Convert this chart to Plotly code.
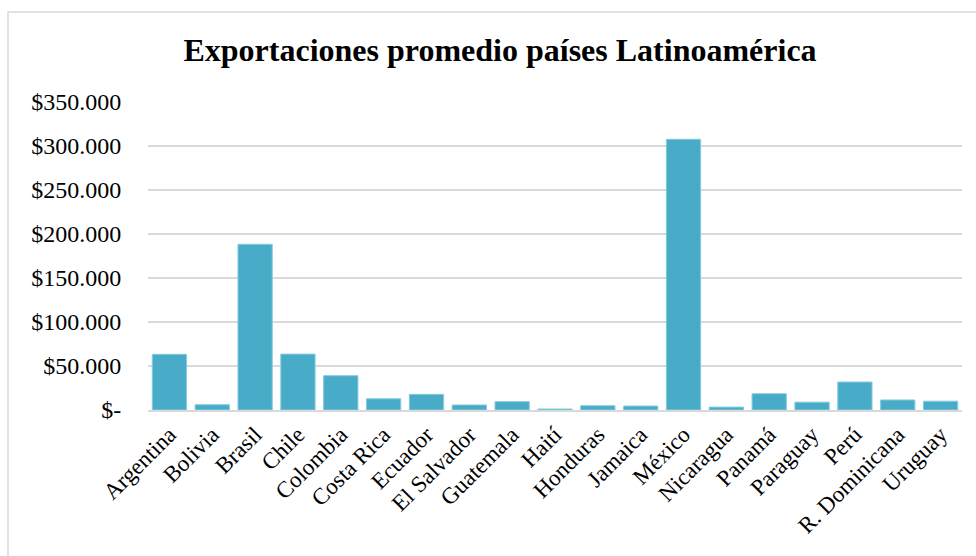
import plotly.graph_objects as go

# Average exports per Latin American country
paises = ["Argentina", "Bolivia", "Brasil", "Chile", "Colombia", "Costa Rica",
          "Ecuador", "El Salvador", "Guatemala", "Haití", "Honduras", "Jamaica",
          "México", "Nicaragua", "Panamá", "Paraguay", "Perú", "R. Dominicana",
          "Uruguay"]
exportaciones = [63300, 6000, 188300, 63500, 39000, 12800,
                 17800, 5700, 9500, 1100, 4900, 4500,
                 307600, 3300, 18500, 8900, 31800, 11400,
                 10000]

# Y-axis ticks in local currency format
y_ticks = [0, 50000, 100000, 150000, 200000, 250000, 300000, 350000]
y_labels = ["$-", "$50.000", "$100.000", "$150.000", "$200.000",
            "$250.000", "$300.000", "$350.000"]

serif = "Liberation Serif"

fig = go.Figure(go.Bar(
    x=paises,
    y=exportaciones,
    marker=dict(color="#48acc9", line=dict(color="#86cadd", width=1)),
    width=0.8,
))

fig.update_layout(
    width=976, height=556,
    paper_bgcolor="white", plot_bgcolor="white",
    margin=dict(l=148, r=14, t=102, b=146),
    showlegend=False,
    title=dict(text="<b>Exportaciones promedio países Latinoamérica</b>",
               x=500 / 976, xanchor="center", y=1 - 50 / 556, yanchor="middle",
               font=dict(family=serif, size=32, color="black")),
    font=dict(family=serif, color="black"),
)

fig.update_yaxes(
    range=[0, 350000], tickvals=y_ticks, ticktext=y_labels,
    showgrid=True, gridcolor="#d9d9d9", gridwidth=1.5,
    zeroline=False, showline=False,
    ticks="outside", ticklen=21, tickcolor="rgba(0,0,0,0)",
    tickfont=dict(family=serif, size=24, color="black"),
)
fig.update_xaxes(
    tickangle=-45, showgrid=False, showline=True, linecolor="#d9d9d9",
    linewidth=2, ticks="", tickfont=dict(family=serif, size=23, color="black"),
)

# Chart frame
fig.add_shape(type="rect", xref="paper", yref="paper",
              x0=(8 - 148) / 814, x1=1.2, y0=-1.0, y1=(410 - 12) / 308,
              line=dict(color="#d9d9d9", width=1.5), fillcolor="rgba(0,0,0,0)",
              layer="below")

fig.write_html("out.html")
